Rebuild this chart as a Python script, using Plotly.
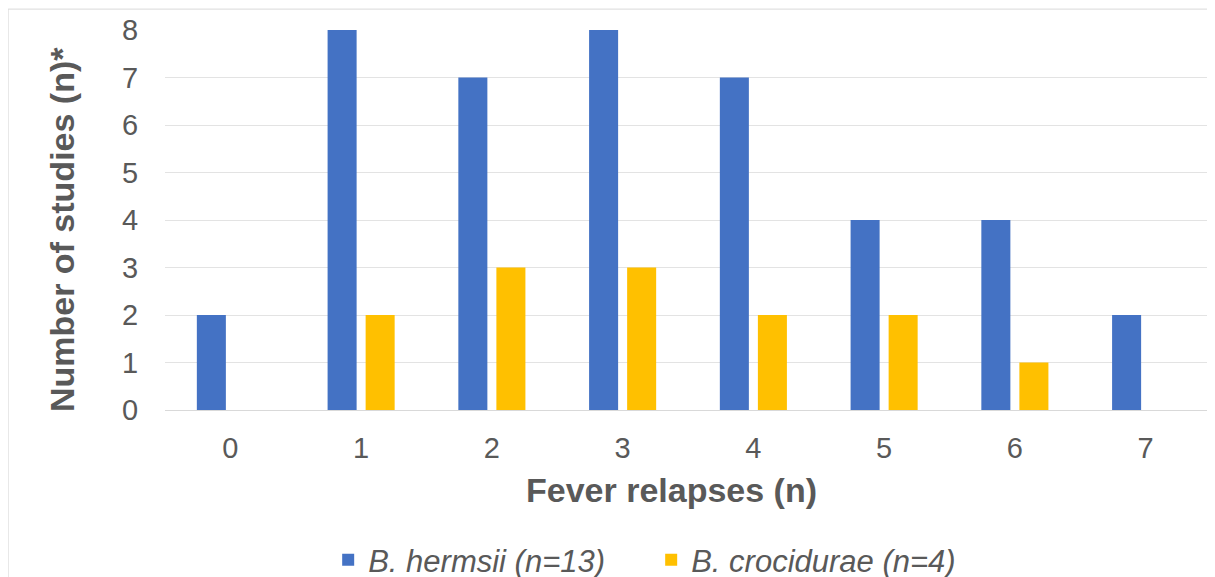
import plotly.graph_objects as go

categories = ["0", "1", "2", "3", "4", "5", "6", "7"]
hermsii = [2, 8, 7, 8, 7, 4, 4, 2]
crocidurae = [0, 2, 3, 3, 2, 2, 1, 0]
series_names = ["<i>B. hermsii (n=13)</i>", "<i>B. crocidurae (n=4)</i>"]
y_ticks = [0, 1, 2, 3, 4, 5, 6, 7, 8]
x_title = "<b>Fever relapses (n)</b>"
y_title = "<b>Number of studies (n)*</b>"

fig = go.Figure()
fig.add_trace(go.Bar(x=categories, y=hermsii, name=series_names[0],
                     marker=dict(color="#4472C4", line=dict(width=0))))
fig.add_trace(go.Bar(x=categories, y=crocidurae, name=series_names[1],
                     marker=dict(color="#FFC000", line=dict(width=0))))

font_fam = "Liberation Sans, Arial, sans-serif"
fig.update_layout(
    width=1215, height=600,
    margin=dict(l=157, r=12, t=22, b=198),
    paper_bgcolor="white", plot_bgcolor="white",
    barmode="group", bargap=0.418, bargroupgap=0.237,
    font=dict(family=font_fam, color="#595959"),
    showlegend=True,
    legend=dict(orientation="h", x=0.156, xanchor="left", y=-0.395, yanchor="middle",
                font=dict(size=31, color="#595959"), itemwidth=30, entrywidth=278,
                traceorder="normal"),
    xaxis=dict(
        type="category", showgrid=False, zeroline=False, automargin=False,
        ticks="outside", ticklen=12, tickcolor="rgba(0,0,0,0)",
        tickfont=dict(size=29, color="#595959"),
        showline=True, linecolor="#d9d9d9", linewidth=1,
    ),
    yaxis=dict(
        range=[0, 8], tickvals=y_ticks, showgrid=True, gridcolor="#e3e3e3", gridwidth=1,
        zeroline=False, automargin=False, ticks="outside", ticklen=20, tickcolor="rgba(0,0,0,0)",
        tickfont=dict(size=29, color="#595959"),
    ),
)

fig.add_annotation(text=x_title, xref="paper", yref="paper", x=0.484, y=-0.21,
                   xanchor="center", yanchor="middle", showarrow=False,
                   font=dict(size=34, color="#595959", family=font_fam))
fig.add_annotation(text=y_title, xref="paper", yref="paper", x=-0.0985, y=0.476,
                   xanchor="center", yanchor="middle", textangle=-90, showarrow=False,
                   font=dict(size=34, color="#595959", family=font_fam))

# outer chart frame lines (top and left)
fig.add_shape(type="line", xref="paper", yref="paper", x0=-0.150, x1=1.02, y0=1.055, y1=1.055,
              line=dict(color="#d9d9d9", width=1))
fig.add_shape(type="line", xref="paper", yref="paper", x0=-0.150, x1=-0.150, y0=1.055, y1=-0.5,
              line=dict(color="#d9d9d9", width=1))

fig.write_html("out.html")
